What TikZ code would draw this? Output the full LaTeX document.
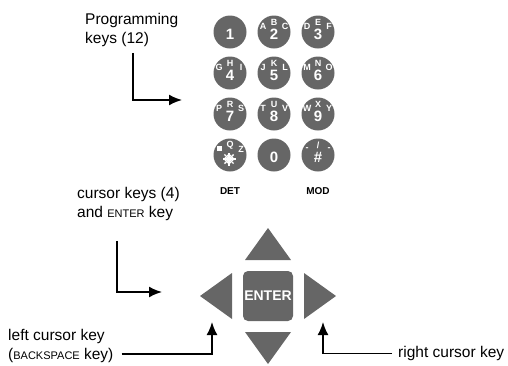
\documentclass[tikz,border=0pt]{standalone}
\usepackage{fontspec}
\setmainfont{Liberation Sans}
\usetikzlibrary{positioning,calc,arrows.meta}
\definecolor{keygray}{HTML}{666666}
\newcommand{\smallcap}[1]{{\fontsize{11}{11}\selectfont #1}}
\tikzset{>={Latex[length=13pt,width=11pt]}}
\tikzset{
  numkey/.style={circle, fill=keygray, minimum size=33pt, inner sep=0pt},
  keydigit/.style={text=white, inner sep=0pt, font=\fontsize{15}{15}\bfseries\selectfont},
  keychar/.style={text=white, inner sep=0pt, font=\fontsize{9}{9}\bfseries\selectfont},
  keycaption/.style={inner sep=0pt, font=\fontsize{10}{10}\bfseries\selectfont},
  padkey/.style={fill=keygray},
  callout/.style={inner sep=0pt, align=left, font=\fontsize{15.5}{19}\selectfont},
  pointer/.style={->, line width=1.8pt},
}

\begin{document}
\begin{tikzpicture}[x=1pt, y=-1pt]
  \useasboundingbox (0,0) rectangle (508,365);
  % programming keys
  \foreach \id/\col/\row/\dig/\la/\lb/\lc in {
      k1/0/0/1/{}/{}/{}, k2/1/0/2/A/B/C, k3/2/0/3/D/E/F,
      k4/0/1/4/G/H/I, k5/1/1/5/J/K/L, k6/2/1/6/M/N/O,
      k7/0/2/7/P/R/S, k8/1/2/8/T/U/V, k9/2/2/9/W/X/Y,
      kstar/0/3/{}/{}/Q/Z, k0/1/3/0/{}/{}/{}, khash/2/3/\#/-/{/}/-}
  {
    \node[numkey] (\id) at (230+44*\col, 32+41*\row) {};
    \node[keydigit] at ([shift={(0,2.5)}]\id.center) {\dig};
    \node[keychar] at ([shift={(-11,-6)}]\id.center) {\la};
    \node[keychar] at ([shift={(0,-10)}]\id.center) {\lb};
    \node[keychar] at ([shift={(11,-6)}]\id.center) {\lc};
  }
  % star and square on the DET key
  \coordinate (starc) at ([shift={(-1,4)}]kstar.center);
  \foreach \a in {0,45,90,135}
    \draw[white, line width=1.4pt] ([shift={(\a:6.5)}]starc) -- ([shift={(\a+180:6.5)}]starc);
  \foreach \a in {22.5,67.5,112.5,157.5}
    \draw[white, line width=1pt] ([shift={(\a:4.5)}]starc) -- ([shift={(\a+180:4.5)}]starc);
  \fill[white] ([shift={(-13,-9)}]kstar.center) rectangle ++(4.5,4.5);
  \node[keycaption, below=16pt of kstar] (det) {DET};
  \node[keycaption, below=16pt of khash] (mod) {MOD};

  % cursor keys
  \node[padkey, rounded corners=5pt, minimum size=50pt, inner sep=0pt, text=white,
        font=\fontsize{14}{14}\bfseries\selectfont] (enter) at (268,296) {ENTER};
  \begin{scope}[shift={(268,296)}]
    \foreach \a in {0,90,180,270}
      \fill[padkey, rotate=\a] (-23,-36) -- (23,-36) -- (0,-68) -- cycle;
  \end{scope}

  % callouts
  \node[callout, anchor=north west] (prog) at (85,13) {Programming\\keys (12)};
  \coordinate (progtip) at (182,100);
  \draw[pointer] (prog.south west) ++(48,6) |- (progtip);

  \node[callout, anchor=north west] (curs) at (77,187) {cursor keys (4)\\and \smallcap{ENTER} key};
  \coordinate (curstip) at (162,292);
  \draw[pointer] (curs.south west) ++(40,20) |- (curstip);

  \node[callout, anchor=base west] (lefttxt) at (8,340) {left cursor key};
  \node[callout, anchor=base west] (bksp) at (8,359) {(\smallcap{BACKSPACE} key)};
  \coordinate (lefttip) at (212,322);
  \draw[pointer] (bksp.east) ++(8,-1) -| (lefttip);

  \node[callout, anchor=base west] (righttxt) at (398,357.5) {right cursor key};
  \coordinate (righttip) at (323,322);
  \draw[pointer] (righttxt.west) ++(-6,0) -| (righttip);
\end{tikzpicture}
\end{document}
